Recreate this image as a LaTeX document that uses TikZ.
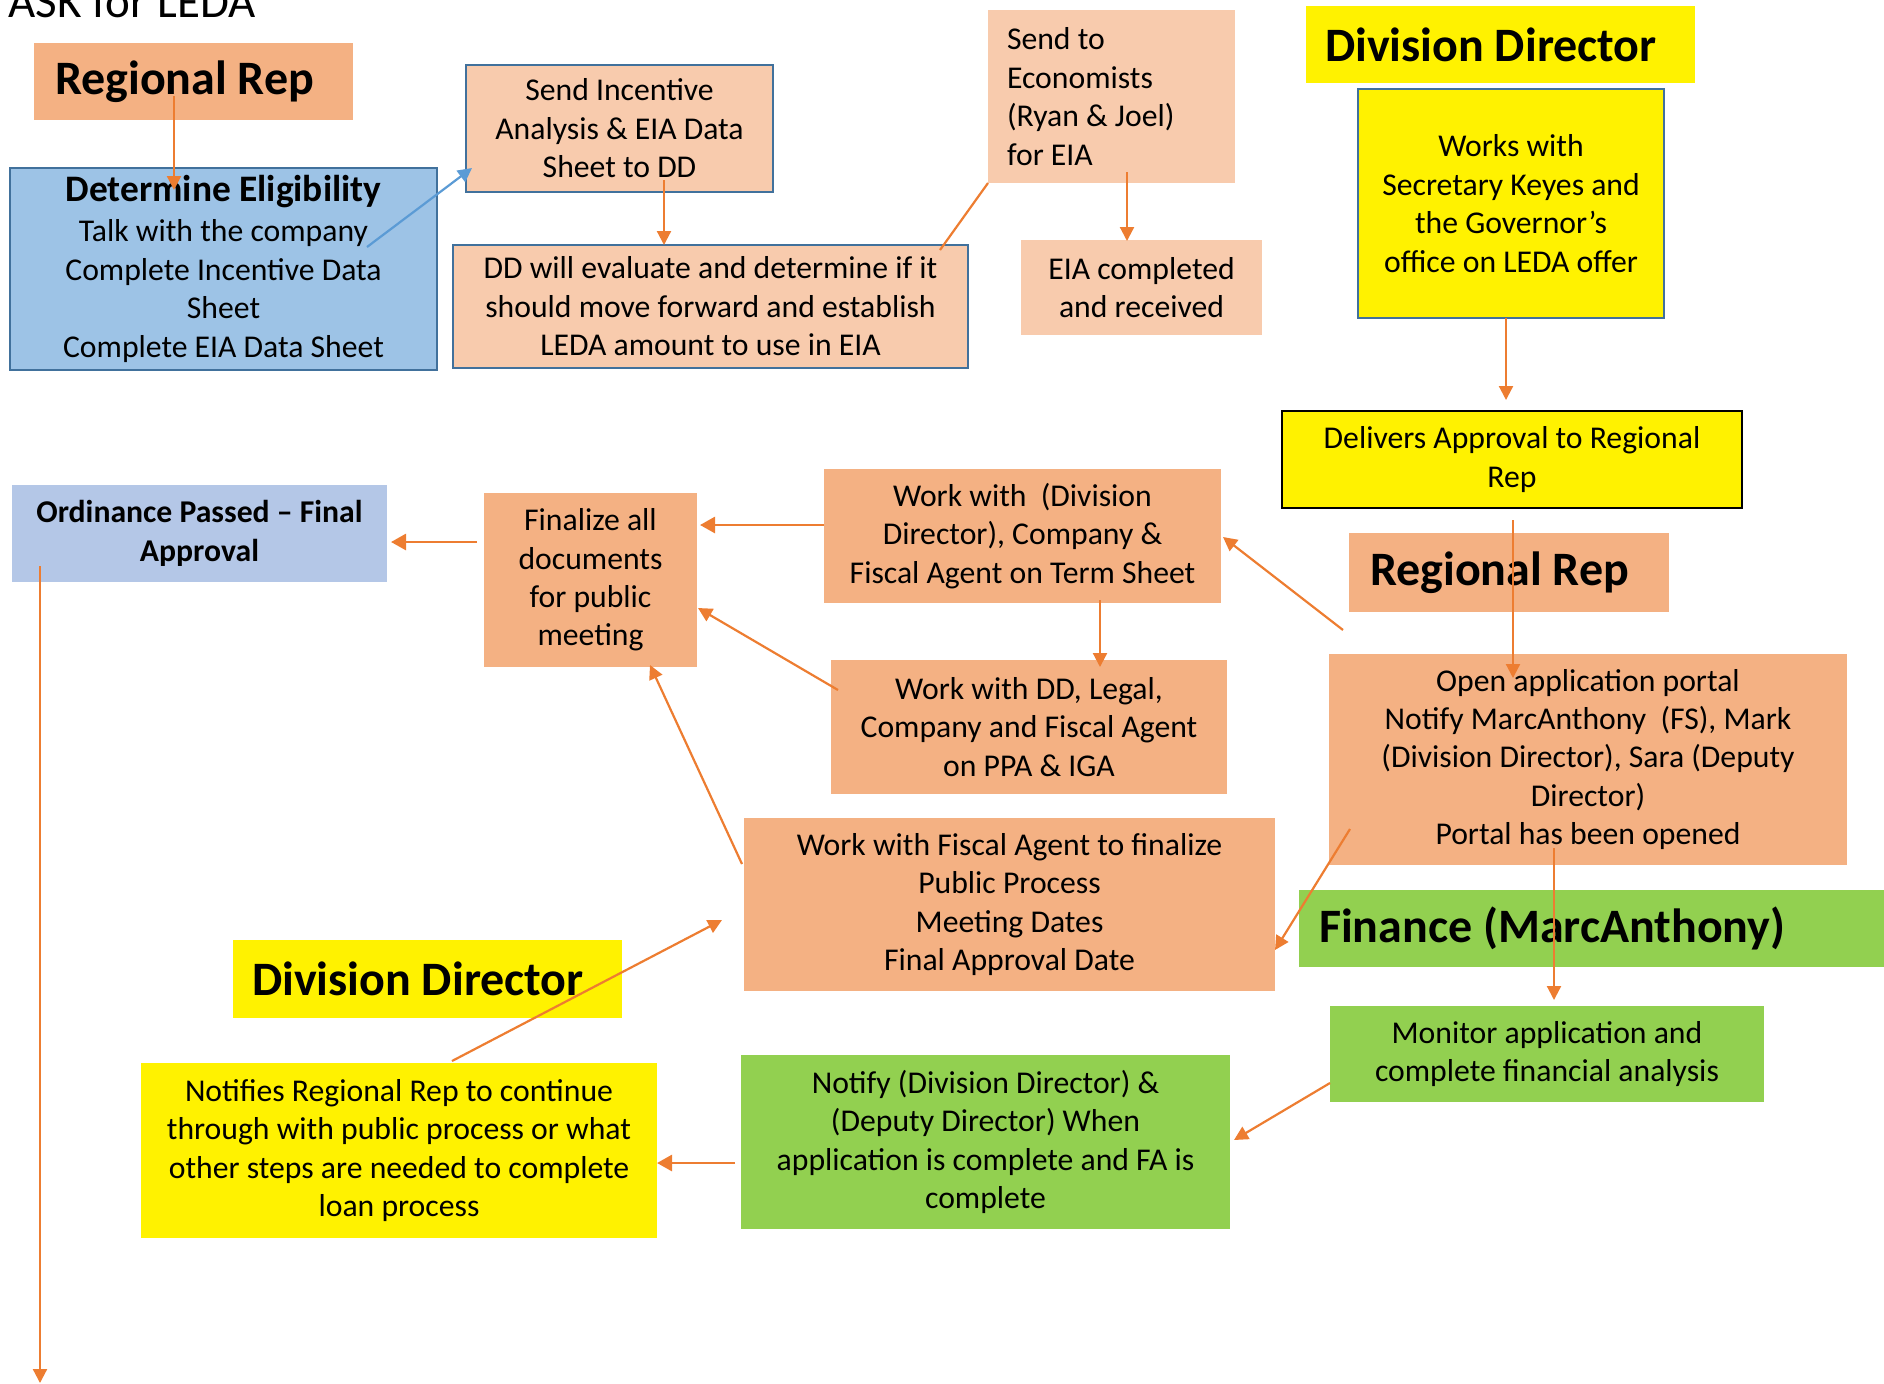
\documentclass[tikz,border=0pt]{standalone}
\usepackage{fontspec}
\setmainfont{Carlito}
\usetikzlibrary{arrows.meta}
\definecolor{orA}{HTML}{F4B183}
\definecolor{orB}{HTML}{F8CBAD}
\definecolor{orL}{HTML}{ED7D31}
\definecolor{blA}{HTML}{9DC3E6}
\definecolor{blB}{HTML}{B4C7E7}
\definecolor{blL}{HTML}{5B9BD5}
\definecolor{blE}{HTML}{41719C}
\definecolor{grA}{HTML}{92D050}
\begin{document}
\begin{tikzpicture}[x=0.5pt,y=-0.5pt,
	box/.style={inner sep=0pt,outer sep=0pt,align=center,font=\fontsize{15.85}{19.2}\selectfont},
	bord/.style={draw=blE,line width=1.3pt},
	lbl/.style={inner sep=0pt,outer sep=0pt,align=flush left,font=\fontsize{24}{28}\selectfont\bfseries},
	arr/.style={draw=orL,line width=1.1pt,-{Triangle[width=7pt,length=7pt]}},
	arrb/.style={draw=orL,line width=1.4pt,-{Triangle[width=8pt,length=7.5pt]}}]
	\useasboundingbox (0,0) rectangle (1884,1383);
	\node[anchor=base west,inner sep=0pt,font=\fontsize{23.5}{28}\selectfont] (title) at (8,17) {ASK for LEDA};
	\node[fill=orA,lbl,minimum width=159.5pt,minimum height=38.5pt,text width=138.5pt] (rr1) at (193.5,81.5) {Regional Rep};
	\node[fill=blA,bord,box,minimum width=213.5pt,minimum height=101pt] (elig) at (223.5,269) {{\fontsize{18.7}{22}\selectfont\bfseries Determine Eligibility}\\[0.8pt]Talk with the company\\Complete Incentive Data\\Sheet\\Complete EIA Data Sheet};
	\node[fill=orB,bord,box,minimum width=153.5pt,minimum height=63.5pt] (send) at (619.5,128.5) {Send Incentive\\Analysis \& EIA Data\\Sheet to DD};
	\node[fill=orB,bord,box,minimum width=257.5pt,minimum height=61.5pt] (dd) at (710.5,306.5) {DD will evaluate and determine if it\\should move forward and establish\\LEDA amount to use in EIA};
	\node[fill=orB,box,align=flush left,text width=104.5pt,minimum width=123.5pt,minimum height=86.5pt] (econ) at (1111.5,96.5) {Send to\\Economists\\(Ryan \& Joel)\\for EIA};
	\node[fill=orB,box,minimum width=120.5pt,minimum height=47.5pt] (eia) at (1141.5,287.5) {EIA completed\\and received};
	\node[fill=yellow,lbl,minimum width=194.5pt,minimum height=38.5pt,text width=175.5pt] (dir1) at (1500.5,44.5) {Division Director};
	\node[fill=yellow,bord,box,minimum width=153pt,minimum height=114.5pt] (works) at (1511,203.5) {Works with\\Secretary Keyes and\\the Governor’s\\office on LEDA offer};
	\node[fill=yellow,draw=black,line width=1pt,box,minimum width=230pt,minimum height=48.5pt] (deliv) at (1512,459.5) {Delivers Approval to Regional\\Rep};
	\node[fill=orA,lbl,minimum width=160pt,minimum height=39.5pt,text width=139pt] (rr2) at (1509,572.5) {Regional Rep};
	\node[fill=orA,box,minimum width=259pt,minimum height=105.5pt] (portal) at (1588,759.5) {Open application portal\\Notify MarcAnthony\ \ (FS), Mark\\(Division Director), Sara (Deputy\\Director)\\Portal has been opened};
	\node[fill=grA,lbl,minimum width=300.5pt,minimum height=38.5pt,text width=280.5pt] (fin) at (1599.5,928.5) {Finance (MarcAnthony)};
	\node[fill=grA,box,minimum width=217pt,minimum height=48pt] (monitor) at (1547,1054) {Monitor application and\\complete financial analysis};
	\node[fill=grA,box,minimum width=244.5pt,minimum height=87pt] (notify) at (985.5,1142) {Notify (Division Director) \&\\(Deputy Director) When\\application is complete and FA is\\complete};
	\node[fill=yellow,box,minimum width=258pt,minimum height=87.5pt] (notifies) at (399,1150.5) {Notifies Regional Rep to continue\\through with public process or what\\other steps are needed to complete\\loan process};
	\node[fill=yellow,lbl,minimum width=194.5pt,minimum height=39pt,text width=175.5pt] (dir2) at (427.5,979) {Division Director};
	\node[fill=orA,box,minimum width=265.5pt,minimum height=86.5pt] (fiscal) at (1009.5,904.5) {Work with Fiscal Agent to finalize\\Public Process\\Meeting Dates\\Final Approval Date};
	\node[fill=orA,box,minimum width=198pt,minimum height=67pt] (legal) at (1029,727) {Work with DD, Legal,\\Company and Fiscal Agent\\on PPA \& IGA};
	\node[fill=orA,box,minimum width=198.5pt,minimum height=67pt] (term) at (1022.5,536) {Work with\ \ (Division\\Director), Company \&\\Fiscal Agent on Term Sheet};
	\node[fill=orA,box,minimum width=106.5pt,minimum height=87pt] (final) at (590.5,580) {Finalize all\\documents\\for public\\meeting};
	\node[fill=blB,box,font=\fontsize{15.85}{19.2}\selectfont\bfseries,minimum width=187.5pt,minimum height=48.5pt] (ord) at (199.5,533.5) {Ordinance Passed -- Final\\Approval};
	\coordinate (bottom) at (40,1383);
	\draw[arr] ([shift={(-19.5,14.5)}]rr1.center) -- ([shift={(-49.5,22)}]elig.north);
	\draw[draw=blL,line width=1.1pt,-{Triangle[width=7pt,length=7pt]}] ([shift={(143.5,-22)}]elig.center) -- ([shift={(6,-24)}]send.south west);
	\draw[arr] ([shift={(44.5,-12)}]send.south) -- ([shift={(-46.5,0)}]dd.north);
	\draw[draw=orL,line width=1.1pt] (econ.south west) -- ([shift={(-28,5)}]dd.north east);
	\draw[arr] ([shift={(15.5,-11)}]econ.south) -- ([shift={(-14.5,1)}]eia.north);
	\draw[arr] ([shift={(-5,0)}]works.south) -- ([shift={(-6,-11)}]deliv.north);
	\draw[arr] ([shift={(1,12)}]deliv.south) -- ([shift={(-75,24)}]portal.north);
	\draw[arr] ([shift={(-6,57.5)}]rr2.west) -- ([shift={(2,1)}]term.east);
	\draw[arr] ([shift={(77.5,-3)}]term.south) -- ([shift={(71,7)}]legal.north);
	\draw[arr] ([shift={(7,-37)}]legal.west) -- ([shift={(1,28)}]final.east);
	\draw[arrb] ([shift={(0,-11)}]term.west) -- ([shift={(3,-55)}]final.east);
	\draw[arrb] ([shift={(-7,-38)}]final.west) -- ([shift={(4,8.5)}]ord.east);
	\draw[arr] ([shift={(-2,46)}]fiscal.north west) -- ([shift={(59.5,-2)}]final.south);
	\draw[arr] ([shift={(21,-36)}]portal.south west) -- ([shift={(0,45.5)}]fiscal.east);
	\draw[arr] ([shift={(-34,-17)}]portal.south) -- ([shift={(7,-6)}]monitor.north);
	\draw[arr] ([shift={(0,29)}]monitor.west) -- ([shift={(4,-2)}]notify.east);
	\draw[arrb] ([shift={(-6,21)}]notify.west) -- ([shift={(0,12.5)}]notifies.east);
	\draw[arr] ([shift={(53,-2)}]notifies.north) -- ([shift={(-22,15.5)}]fiscal.west);
	\draw[arr] ([shift={(28,-16)}]ord.south west) -- (bottom);
\end{tikzpicture}
\end{document}
